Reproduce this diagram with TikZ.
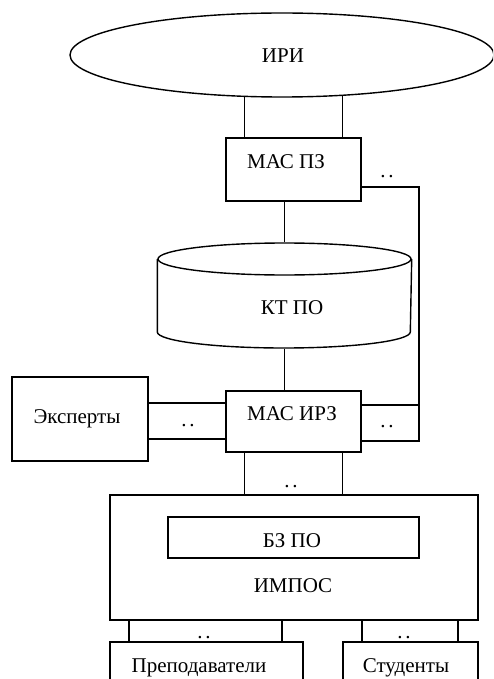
\documentclass[tikz,border=0pt]{standalone}
\usepackage{fontspec}
\setmainfont{Liberation Serif}
\usetikzlibrary{calc,shapes.geometric}
\begin{document}
\begin{tikzpicture}[x=1pt,y=-1pt,line width=1.4pt,
  box/.style={draw,rectangle,inner sep=0pt},
  lbl/.style={inner sep=0pt,anchor=base,font=\fontsize{21}{24}\selectfont},
  dots/.style={inner sep=0pt,anchor=base,font=\fontsize{21}{24}\selectfont}]
\useasboundingbox (0,0) rectangle (493,679);
\clip (0,0) rectangle (493,679);
\newcommand{\dd}{.\kern3pt.}
% ellipse
\node[draw,ellipse,inner sep=0pt,minimum width=424,minimum height=84] (iri) at (282,55) {};
\node[lbl] (irit) at (283,63) {ИРИ};
% MAS PZ
\node[box,minimum width=135,minimum height=63] (mps) at (293.5,169.5) {};
\node[lbl] (mpst) at (286,168) {МАС ПЗ};
% cylinder
\node[inner sep=0pt,minimum width=253,minimum height=105] (kt) at (284.5,295.5) {};
\draw (284.5,259) ellipse [x radius=126.5,y radius=16];
\draw (kt.west |- 0,259) -- (kt.west |- 0,332)
      arc[start angle=180,end angle=0,x radius=126.5,y radius=16]
      -- (kt.east |- 0,259);
\node[lbl] (ktt) at (292,314) {КТ ПО};
% MAS IRZ
\node[box,minimum width=135,minimum height=61] (mirz) at (293.5,421.5) {};
\node[lbl] (mirzt) at (292,420) {МАС ИРЗ};
% Experts
\node[box,minimum width=136,minimum height=84] (exp) at (80,419) {};
\node[lbl] (expt) at (77,423) {Эксперты};
% IMPOS
\node[box,minimum width=368,minimum height=125] (imp) at (294,557.5) {};
\node[box,minimum width=251,minimum height=41] (bz) at (293.5,537.5) {};
\node[lbl] (bzt) at (292,547) {БЗ ПО};
\node[lbl] (impt) at (293,592) {ИМПОС};
% bottom boxes
\node[box,minimum width=193,minimum height=58] (prep) at (206.5,671) {};
\node[lbl] (prept) at (199,672) {Преподаватели};
\node[box,minimum width=135,minimum height=58] (stud) at (410.5,671) {};
\node[lbl] (studt) at (406,672) {Студенты};
% coordinates
\coordinate (a1) at ($(mps.north west)+(19,0)$);
\coordinate (a2) at ($(mps.north east)+(-19,0)$);
\coordinate (b1) at ($(mirz.south west)+(19,0)$);
\coordinate (b2) at ($(mirz.south east)+(-19,0)$);
\coordinate (r1) at (419,187);
\coordinate (r2) at (419,441);
\coordinate (r3) at (419,405);
\coordinate (e1) at (0,403);
\coordinate (e2) at (0,439);
\coordinate (p1) at (129,0);
\coordinate (p2) at (282,0);
\coordinate (s1) at (362,0);
\coordinate (s2) at (458,0);
% connectors
\draw (a1) -- (a1 |- iri.228);
\draw (a2) -- (a2 |- iri.326);
\draw (mps.south -| kt.north) -- (kt.north);
\draw (kt.south) -- (kt.south |- mirz.north);
\draw (mps.east |- r1) -- (r1) -- (r2) -- (mirz.east |- r2);
\draw (mirz.east |- r3) -- (r3);
\draw (exp.east |- e1) -- (mirz.west |- e1);
\draw (exp.east |- e2) -- (mirz.west |- e2);
\draw (b1) -- (b1 |- imp.north);
\draw (b2) -- (b2 |- imp.north);
\draw (p1 |- imp.south) -- (p1 |- prep.north);
\draw (p2 |- imp.south) -- (p2 |- prep.north);
\draw (s1 |- imp.south) -- (s1 |- stud.north);
\draw (s2 |- imp.south) -- (s2 |- stud.north);
% dots
\node[dots] (d1) at (387,178) {\dd};
\node[dots] (d2) at (387,427) {\dd};
\node[dots] (d3) at (188,426) {\dd};
\node[dots] (d4) at (291,487) {\dd};
\node[dots] (d5) at (204,638) {\dd};
\node[dots] (d6) at (404,638) {\dd};
\end{tikzpicture}
\end{document}
